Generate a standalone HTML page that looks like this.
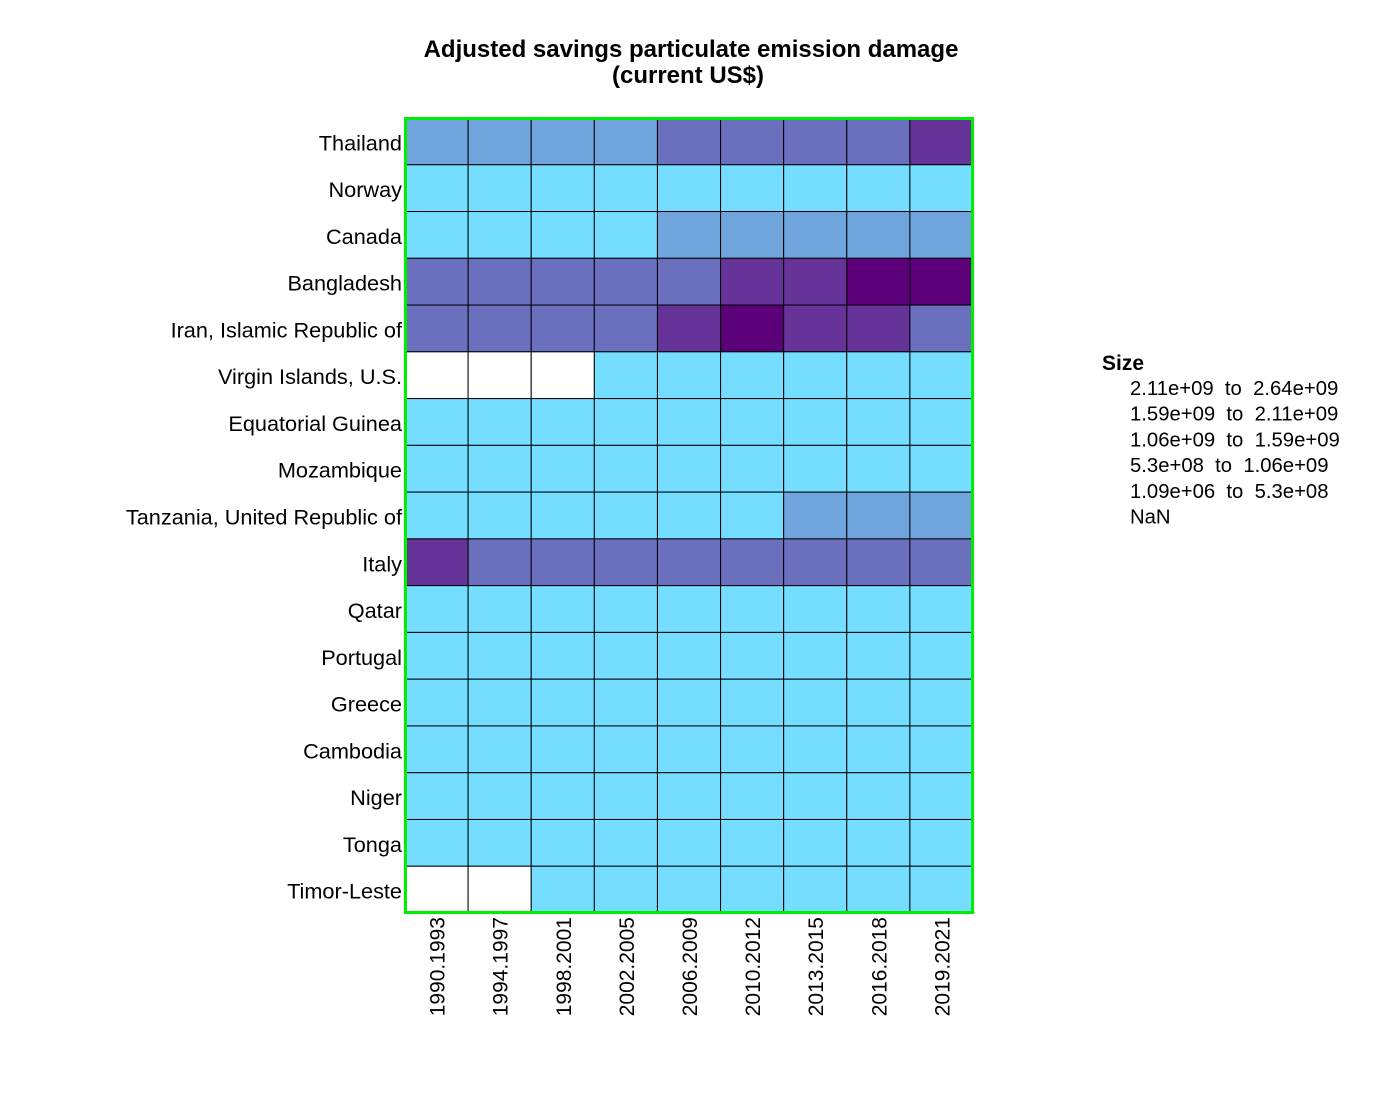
<!DOCTYPE html>
<html><head><meta charset="utf-8"><style>
html,body{margin:0;padding:0;background:#fff;}
svg{display:block;font-family:"Liberation Sans",Arial,sans-serif;}
</style></head><body>
<svg id="chart" width="1400" height="1100" xmlns="http://www.w3.org/2000/svg">
<text x="691" y="57" text-anchor="middle" font-size="24" font-weight="bold">Adjusted savings particulate emission damage</text>
<text x="688" y="83" text-anchor="middle" font-size="24" font-weight="bold">(current US$)</text>
<g id="cells"></g>
<g id="ylabels"></g>
<g id="xlabels"></g>
<rect x="405.5" y="118.5" width="567" height="794" fill="none" stroke="#00ee00" stroke-width="3"/>
<g>
<text x="1102" y="370" font-size="21" font-weight="bold">Size</text>
<g id="legend-items"></g>
</g>
</svg>
<script>
const rows = ["Thailand","Norway","Canada","Bangladesh","Iran, Islamic Republic of","Virgin Islands, U.S.","Equatorial Guinea","Mozambique","Tanzania, United Republic of","Italy","Qatar","Portugal","Greece","Cambodia","Niger","Tonga","Timor-Leste"];
const cols = ["1990.1993","1994.1997","1998.2001","2002.2005","2006.2009","2010.2012","2013.2015","2016.2018","2019.2021"];
const breaks = [1.09e6,5.3e8,1.06e9,1.59e9,2.11e9,2.64e9];
const legendLabels = ["2.11e+09  to  2.64e+09","1.59e+09  to  2.11e+09","1.06e+09  to  1.59e+09","5.3e+08  to  1.06e+09","1.09e+06  to  5.3e+08","NaN"];
const palette = ["#75ddff","#70a4dc","#6a6fbe","#663399","#5b0079"];
const N = null;
const values = [
 [8.0e8,8.2e8,8.5e8,9.0e8,1.2e9,1.3e9,1.35e9,1.4e9,1.8e9],
 [1.0e8,1.0e8,1.1e8,1.2e8,1.3e8,1.3e8,1.2e8,1.2e8,1.1e8],
 [3.5e8,3.8e8,4.0e8,4.5e8,5.6e8,6.5e8,7.0e8,7.5e8,7.8e8],
 [1.2e9,1.25e9,1.3e9,1.35e9,1.5e9,1.8e9,2.0e9,2.3e9,2.5e9],
 [1.2e9,1.25e9,1.3e9,1.4e9,1.8e9,2.3e9,1.9e9,1.7e9,1.5e9],
 [N,N,N,5e6,6e6,6e6,5e6,5e6,5e6],
 [2e6,3e6,5e6,1e7,2e7,2e7,2e7,1.5e7,1.5e7],
 [5e7,6e7,7e7,9e7,1.2e8,1.5e8,1.8e8,2e8,2.2e8],
 [2e8,2.3e8,2.6e8,3e8,3.6e8,4.5e8,5.5e8,6.2e8,7e8],
 [1.7e9,1.5e9,1.4e9,1.4e9,1.35e9,1.3e9,1.2e9,1.15e9,1.1e9],
 [3e7,3.5e7,4e7,6e7,9e7,1.2e8,1.3e8,1.3e8,1.3e8],
 [1.5e8,1.6e8,1.7e8,1.7e8,1.6e8,1.5e8,1.4e8,1.3e8,1.3e8],
 [2.5e8,2.6e8,2.7e8,2.8e8,2.7e8,2.4e8,2e8,1.9e8,1.9e8],
 [3e7,4e7,5e7,7e7,1e8,1.3e8,1.6e8,1.8e8,2e8],
 [3e7,3.5e7,4e7,5e7,6e7,7e7,8e7,9e7,1e8],
 [1.2e6,1.3e6,1.4e6,1.5e6,1.6e6,1.7e6,1.8e6,1.9e6,2e6],
 [N,N,3e6,5e6,8e6,1e7,1.2e7,1.3e7,1.4e7]
];
const X0=405, X1=973, Y0=118, Y1=913;
const cw=(X1-X0)/cols.length, rh=(Y1-Y0)/rows.length;
const xs = i => X0 + i*cw;
const ys = j => Y0 + j*rh;
function colorOf(v){
  if(v===null||v===undefined||isNaN(v)) return "#ffffff";
  for(let k=1;k<breaks.length;k++){ if(v<=breaks[k]) return palette[k-1]; }
  return palette[palette.length-1];
}
const NS="http://www.w3.org/2000/svg";
const cells=document.getElementById("cells");
rows.forEach((r,j)=>{
  cols.forEach((c,i)=>{
    const el=document.createElementNS(NS,"rect");
    el.setAttribute("x",xs(i)); el.setAttribute("y",ys(j));
    el.setAttribute("width",cw); el.setAttribute("height",rh);
    el.setAttribute("fill",colorOf(values[j][i]));
    el.setAttribute("stroke","#000"); el.setAttribute("stroke-width","1");
    
    
    cells.appendChild(el);
  });
});
const yl=document.getElementById("ylabels");
rows.forEach((r,j)=>{
  const t=document.createElementNS(NS,"text");
  t.setAttribute("x",402); t.setAttribute("y",ys(j)+rh/2+9);
  t.setAttribute("text-anchor","end"); t.setAttribute("font-size","21.7");
  t.textContent=r;
  
  
  yl.appendChild(t);
});
const xl=document.getElementById("xlabels");
cols.forEach((c,i)=>{
  const cx=xs(i)+cw/2+8, cy=917;
  const t=document.createElementNS(NS,"text");
  t.setAttribute("x",cx); t.setAttribute("y",cy);
  t.setAttribute("text-anchor","end"); t.setAttribute("font-size","21");
  t.setAttribute("transform","rotate(-90 "+cx+" "+cy+")");
  t.textContent=c;
  
  
  xl.appendChild(t);
});
const lg=document.getElementById("legend-items");
legendLabels.forEach((l,k)=>{
  const t=document.createElementNS(NS,"text");
  t.setAttribute("x",1130); t.setAttribute("y",395+k*25.7);
  t.setAttribute("font-size","20.3"); t.setAttribute("xml:space","preserve");
  t.style.whiteSpace="pre";
  t.textContent=l;
  
  
  lg.appendChild(t);
});
</script>
</body></html>
